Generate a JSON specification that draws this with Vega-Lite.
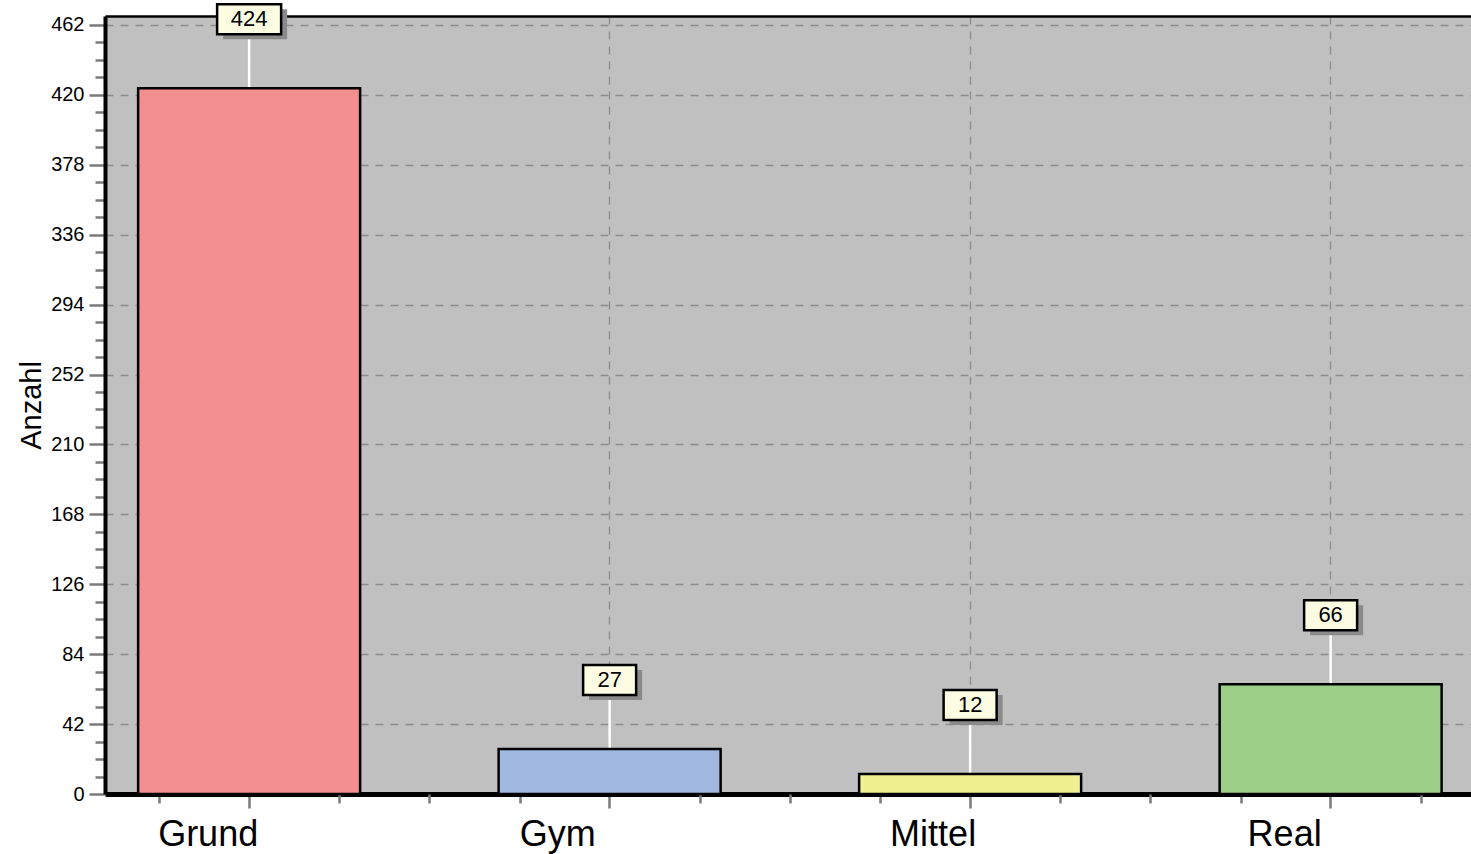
{
  "$schema": "https://vega.github.io/schema/vega-lite/v6.json",
  "width": 1366,
  "height": 778,
  "autosize": "none",
  "padding": {"left": 105, "top": 16, "right": 0, "bottom": 60},
  "background": "white",
  "config": {
    "view": {"fill": "#c0c0c0", "stroke": null},
    "font": "Liberation Sans"
  },
  "data": {
    "values": [
      {"Schulart": "Grund", "Anzahl": 424},
      {"Schulart": "Gym", "Anzahl": 27},
      {"Schulart": "Mittel", "Anzahl": 12},
      {"Schulart": "Real", "Anzahl": 66}
    ]
  },
  "resolve": {"axis": {"x": "independent", "y": "independent"}},
  "layer": [
    {
      "mark": {"type": "rule", "color": "white", "strokeWidth": 2.5, "y2Offset": -54},
      "encoding": {
        "x": {"field": "Schulart", "type": "nominal",
          "axis": {"orient": "bottom", "title": null, "labels": false, "domain": false, "grid": false, "tickSize": 9, "tickColor": "#7a7a7a", "tickWidth": 2.5, "tickOffset": -90}},
        "y": {"field": "Anzahl", "type": "quantitative",
          "axis": {"orient": "left", "title": null, "labels": false, "domain": false, "grid": false, "tickSize": 10, "tickColor": "#7a7a7a", "tickWidth": 2.5,
            "values": [10.5, 21, 31.5, 52.5, 63, 73.5, 94.5, 105, 115.5, 136.5, 147, 157.5, 178.5, 189, 199.5, 220.5, 231, 241.5, 262.5, 273, 283.5, 304.5, 315, 325.5, 346.5, 357, 367.5, 388.5, 399, 409.5, 430.5, 441, 451.5]}},
        "y2": {"field": "Anzahl"}
      }
    },
    {
      "mark": {"type": "bar", "stroke": "black", "strokeWidth": 2.5, "orient": "vertical"},
      "encoding": {
        "x": {"field": "Schulart", "type": "nominal",
          "scale": {"type": "band", "paddingInner": 0.3842, "paddingOuter": 0.0867, "align": 0.53, "round": false},
          "axis": {"orient": "bottom", "title": null, "domainColor": "black", "domainWidth": 5,
            "tickColor": "#7a7a7a", "tickWidth": 2.5, "tickSize": 14,
            "labelFontSize": 36, "labelColor": "black", "labelAngle": 0, "labelAlign": "left", "labelBaseline": "top", "labelPadding": 9,
            "labelOverlap": false,
            "labelOffset": {"condition": [
              {"test": "datum.value == 'Gym'", "value": -90},
              {"test": "datum.value == 'Mittel'", "value": -80},
              {"test": "datum.value == 'Real'", "value": -83}
            ], "value": -91},
            "grid": true, "gridDash": [8, 7], "gridColor": "#8c8c8c", "gridWidth": 1.3}},
        "y": {"field": "Anzahl", "type": "quantitative",
          "scale": {"domain": [0, 467.4], "nice": false, "zero": true},
          "axis": {"orient": "left", "title": "Anzahl", "titleFontSize": 29, "titleFontWeight": "normal", "titleColor": "black", "titlePadding": 4,
            "values": [0, 42, 84, 126, 168, 210, 252, 294, 336, 378, 420, 462],
            "domainColor": "black", "domainWidth": 4,
            "tickColor": "#7a7a7a", "tickWidth": 2.5, "tickSize": 16,
            "labelFontSize": 20, "labelColor": "black", "labelPadding": 5,
            "grid": true, "gridDash": [8, 7], "gridColor": "#8c8c8c", "gridWidth": 1.3}},
        "color": {"field": "Schulart", "type": "nominal", "legend": null,
          "scale": {"domain": ["Grund", "Gym", "Mittel", "Real"], "range": ["#f38f8f", "#a0b8e0", "#f0f090", "#9ecf89"]}}
      }
    },
    {
      "mark": {"type": "point", "filled": true, "fill": "#8a8a8a", "strokeWidth": 0, "opacity": 1, "xOffset": 6, "yOffset": -64},
      "encoding": {
        "x": {"field": "Schulart", "type": "nominal",
          "axis": {"orient": "bottom", "title": null, "labels": false, "domain": false, "grid": false, "tickSize": 9, "tickColor": "#7a7a7a", "tickWidth": 2.5, "tickOffset": 90}},
        "y": {"field": "Anzahl", "type": "quantitative", "axis": null},
        "shape": {"condition": {"test": "datum.Anzahl >= 100", "value": "M-1,-0.469H1V0.469H-1Z"}, "value": "M-1,-0.566H1V0.566H-1Z"},
        "size": {"condition": {"test": "datum.Anzahl >= 100", "value": 4096}, "value": 2809}
      }
    },
    {
      "mark": {"type": "point", "filled": true, "fill": "#fcfce2", "stroke": "black", "strokeWidth": 2.5, "opacity": 1, "yOffset": -69},
      "encoding": {
        "x": {"field": "Schulart", "type": "nominal",
          "axis": {"orient": "bottom", "title": null, "labels": false, "domain": false, "grid": false, "tickSize": 9, "tickColor": "#7a7a7a", "tickWidth": 2.5, "tickOffset": 180}},
        "y": {"field": "Anzahl", "type": "quantitative", "axis": null},
        "shape": {"condition": {"test": "datum.Anzahl >= 100", "value": "M-1,-0.469H1V0.469H-1Z"}, "value": "M-1,-0.566H1V0.566H-1Z"},
        "size": {"condition": {"test": "datum.Anzahl >= 100", "value": 4096}, "value": 2809}
      }
    },
    {
      "mark": {"type": "text", "dy": -69, "fontSize": 22, "color": "black", "baseline": "middle", "align": "center"},
      "encoding": {
        "x": {"field": "Schulart", "type": "nominal",
          "axis": {"orient": "top", "title": null, "labels": false, "ticks": false, "grid": false, "domain": true, "domainColor": "black", "domainWidth": 2.5}},
        "y": {"field": "Anzahl", "type": "quantitative", "axis": null},
        "text": {"field": "Anzahl", "type": "quantitative"}
      }
    }
  ]
}
